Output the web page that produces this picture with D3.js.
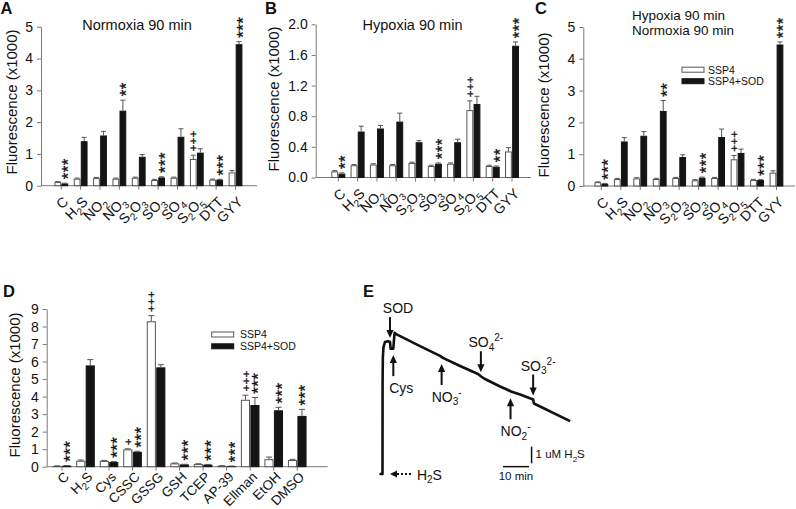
<!DOCTYPE html>
<html><head><meta charset="utf-8">
<script src="https://cdn.jsdelivr.net/npm/d3@7"></script>
<style>
body{margin:0;background:#fff}
svg{display:block}
text{font-family:"Liberation Sans",Arial,Helvetica,sans-serif;fill:#111}
</style>
</head><body>
<svg id="chart" width="796" height="509"></svg>
<script>
// ---------------- DATA ----------------
const catsABC = ["C","H_2S","NO_2","NO_3","S_2O_3","SO_3","SO_4","S_2O_5","DTT","GYY"];
const seriesNames = ["SSP4","SSP4+SOD"];

// Panel A: Normoxia 90 min
const aSSP4     = [0.12,0.22,0.24,0.22,0.25,0.18,0.25,0.84,0.19,0.42];
const aSSP4Err  = [0.01,0.02,0.02,0.02,0.02,0.02,0.02,0.12,0.02,0.06];
const aSOD      = [0.07,1.40,1.58,2.36,0.91,0.26,1.54,1.04,0.19,4.45];
const aSODErr   = [0.01,0.12,0.13,0.33,0.07,0.02,0.25,0.12,0.01,0.08];
const aMarkSSP4 = ["","","","","","","","+++","",""];
const aMarkSOD  = ["***","","","**","","***","","","***","***"];

// Panel B: Hypoxia 90 min
const bSSP4     = [0.08,0.16,0.17,0.16,0.19,0.15,0.18,0.88,0.15,0.34];
const bSSP4Err  = [0.01,0.01,0.01,0.01,0.01,0.01,0.01,0.12,0.01,0.05];
const bSOD      = [0.05,0.60,0.64,0.73,0.46,0.18,0.46,0.96,0.14,1.72];
const bSODErr   = [0.01,0.07,0.04,0.11,0.02,0.01,0.04,0.10,0.01,0.05];
const bMarkSSP4 = ["","","","","","","","+++","",""];
const bMarkSOD  = ["**","","","","","***","","","**","***"];

// Panel C: Hypoxia 90 min + Normoxia 90 min
const cSSP4     = [0.12,0.22,0.24,0.22,0.25,0.18,0.25,0.84,0.19,0.42];
const cSSP4Err  = [0.01,0.02,0.02,0.02,0.02,0.02,0.02,0.12,0.02,0.06];
const cSOD      = [0.07,1.40,1.58,2.36,0.91,0.26,1.54,1.04,0.19,4.45];
const cSODErr   = [0.01,0.12,0.13,0.33,0.07,0.02,0.25,0.12,0.01,0.08];
const cMarkSSP4 = ["","","","","","","","+++","",""];
const cMarkSOD  = ["***","","","**","","***","","","***","***"];

// Panel D
const catsD     = ["C","H_2S","Cys","CSSC","GSSG","GSH","TCEP","AP-39","Ellman","EtOH","DMSO"];
const dSSP4     = [0.04,0.34,0.33,0.99,8.30,0.19,0.15,0.05,3.82,0.43,0.38];
const dSSP4Err  = [0.01,0.04,0.03,0.03,0.32,0.02,0.02,0.01,0.26,0.12,0.04];
const dSOD      = [0.06,5.78,0.27,0.85,5.67,0.13,0.12,0.03,3.52,3.22,2.90];
const dSODErr   = [0.01,0.33,0.02,0.03,0.15,0.01,0.01,0.01,0.43,0.17,0.37];
const dMarkSSP4 = ["","","","+","+++","","","","+++","",""];
const dMarkSOD  = ["***","","***","***","","***","***","***","***","***","***"];

// Tick values
const ticksA = [0,1,2,3,4,5];
const ticksB = [0,0.4,0.8,1.2,1.6,2.0];
const ticksC = [0,1,2,3,4,5];
const ticksD = [0,1,2,3,4,5,6,7,8,9];

// Panel E: trace (time in min, H2S in uM)
const traceT = [-0.2,0.96,1.0,1.1,1.35,1.9,3.1,3.85,4.1,5.1,5.6,6.2,15.4,23.1,24.2,30.8,37.7,38.9,40.0,46.2,49.2,50.4,53.9,58.9,59.2,60.4,73.1];
const traceV = [0,0,5.5,7.0,7.6,7.9,7.95,7.9,7.5,7.5,8.45,8.38,7.66,7.07,6.95,6.47,5.99,5.84,5.72,5.24,5.03,4.94,4.76,4.46,4.22,4.13,3.17];
const evtLabels = ["SOD","Cys","NO_3^-","SO_4^2-","NO_2^-","SO_3^2-"];
const evtT      = [3.85,5.12,23.7,38.8,50.2,58.9];
const evtDir    = ["down","up","up","down","up","down"];

// ---------------- DRAW ----------------
const svg = d3.select("#chart");
const FONT = 14;

function addRich(t, str, size){
  const sub = Math.round(size*0.72);
  let cur = 0, i = 0, buf = "";
  const parts = [];
  while(i < str.length){
    const ch = str[i];
    if(ch === "_"){ if(buf){parts.push([buf,0]);buf="";} parts.push([str[i+1],1]); i += 2; }
    else if(ch === "^"){ if(buf){parts.push([buf,0]);buf="";} parts.push([str.slice(i+1),-1]); i = str.length; }
    else { buf += ch; i++; }
  }
  if(buf) parts.push([buf,0]);
  parts.forEach(([s,k])=>{
    const target = k===1 ? size*0.28 : k===-1 ? -size*0.42 : 0;
    t.append("tspan").attr("dy", (target-cur).toFixed(2)).attr("font-size", k ? sub : size).text(s);
    cur = target;
  });
}

// stacked significance marks drawn as one vertical (rotated) text run
function marksText(g, str, cx, yBottomCenter){
  const plus = str[0] === "+";
  const fs = plus ? 11.5 : 16.5;
  const adv = (plus ? 0.584 : 0.389) * fs;
  const inkC = (plus ? 0.353 : 0.574) * fs;
  const ls = 7 - adv;
  g.append("text").attr("font-size", fs).attr("letter-spacing", ls.toFixed(2))
    .attr("stroke","#111").attr("stroke-width",0.35)
    .attr("transform", `translate(${(cx + inkC).toFixed(2)},${(yBottomCenter + adv/2).toFixed(2)}) rotate(-90)`)
    .text(str);
}

function barPanel(cfg){
  const g = svg.append("g");
  const y = d3.scaleLinear().domain([0, cfg.ymax]).range([cfg.base, cfg.top]);
  const x = d3.scaleBand().domain(cfg.cats).range(cfg.band).paddingInner(0).paddingOuter(0);
  const xs = d3.scaleBand().domain(seriesNames).range([-cfg.bw, cfg.bw]).paddingInner(0.04);
  const ctr = c => x(c) + x.bandwidth()/2;

  const ya = g.append("g").attr("transform", `translate(${cfg.axisX},0)`)
    .call(d3.axisLeft(y).tickValues(cfg.ticks).tickSize(4).tickSizeOuter(0).tickPadding(4).tickFormat(cfg.fmt));
  ya.select(".domain").attr("stroke","#7a7a7a");
  ya.selectAll(".tick line").attr("stroke","#7a7a7a");
  ya.selectAll(".tick text").attr("font-size",FONT).attr("font-family",'"Liberation Sans",Arial,sans-serif').attr("fill","#111");

  g.append("line").attr("x1",cfg.axisX).attr("x2",cfg.axisEnd).attr("y1",cfg.base).attr("y2",cfg.base).attr("stroke","#7a7a7a");
  g.selectAll(".xt").data(cfg.cats).join("line")
    .attr("x1",d=>ctr(d)).attr("x2",d=>ctr(d)).attr("y1",cfg.base).attr("y2",cfg.base+4).attr("stroke","#7a7a7a");

  cfg.cats.forEach(c=>{
    const t = g.append("text").attr("text-anchor","end").attr("font-size",cfg.labFont)
      .attr("transform",`translate(${ctr(c)+cfg.labDx},${cfg.base+cfg.labDy}) rotate(-45)`);
    addRich(t, c, cfg.labFont);
  });

  g.append("text").attr("text-anchor","middle").attr("font-size",15)
    .attr("transform",`translate(${cfg.ytX},${cfg.ytY}) rotate(-90)`).text("Fluorescence (x1000)");

  const series = [
    {name:"SSP4", v:cfg.s1, e:cfg.e1, m:cfg.m1, fill:"#fff", stroke:"#555"},
    {name:"SSP4+SOD", v:cfg.s2, e:cfg.e2, m:cfg.m2, fill:"#141414", stroke:"#141414"}
  ];
  series.forEach(s=>{
    const bx = c => ctr(c) + xs(s.name);
    const w = xs.bandwidth();
    g.selectAll(null).data(cfg.cats).join("rect")
      .attr("x",(c)=>bx(c)+0.5).attr("y",(c,i)=>y(s.v[i])+0.5)
      .attr("width",w-1).attr("height",(c,i)=>Math.max(0,y(0)-y(s.v[i])-0.5))
      .attr("fill",s.fill).attr("stroke",s.stroke).attr("stroke-width",1);
    cfg.cats.forEach((c,i)=>{
      const cx = bx(c)+w/2, y0 = y(s.v[i]), y1 = y(s.v[i]+s.e[i]);
      g.append("line").attr("x1",cx).attr("x2",cx).attr("y1",y0).attr("y2",y1).attr("stroke","#555");
      g.append("line").attr("x1",cx-cfg.cap).attr("x2",cx+cfg.cap).attr("y1",y1).attr("y2",y1).attr("stroke","#555");
      if(s.m[i]) marksText(g, s.m[i], cx, y1 - 7);
    });
  });
  return g;
}

function legend(x0, y0, dy, textX){
  seriesNames.forEach((n,i)=>{
    svg.append("rect").attr("x",x0).attr("y",y0+i*dy-2.5).attr("width",22).attr("height",5)
      .attr("fill", i ? "#141414" : "#fff").attr("stroke", i ? "#141414" : "#555");
    svg.append("text").attr("x",textX).attr("y",y0+i*dy+3.8).attr("font-size",10.5).text(n);
  });
}

// Panel A
barPanel({cats:catsABC, ymax:5, ticks:ticksA, fmt:d3.format("d"), base:185.7, top:26.7, axisX:41, axisEnd:257,
  band:[51.6,245.2], bw:6.9, cap:2.5, labDx:8, labDy:17, labFont:14, ytX:17, ytY:102,
  s1:aSSP4,e1:aSSP4Err,m1:aMarkSSP4,s2:aSOD,e2:aSODErr,m2:aMarkSOD});
svg.append("text").attr("x",137).attr("y",30).attr("text-anchor","middle").attr("font-size",14.5).text("Normoxia 90 min");

// Panel B
barPanel({cats:catsABC, ymax:2.0, ticks:ticksB, fmt:d3.format(".1f"), base:177.5, top:24.3, axisX:315.7, axisEnd:531,
  band:[328.65,521.65], bw:7, cap:2.5, labDx:8, labDy:17, labFont:14, ytX:279, ytY:99,
  s1:bSSP4,e1:bSSP4Err,m1:bMarkSSP4,s2:bSOD,e2:bSODErr,m2:bMarkSOD});
svg.append("text").attr("x",412.5).attr("y",29.5).attr("text-anchor","middle").attr("font-size",14.5).text("Hypoxia 90 min");

// Panel C
{
  const tt = svg.append("text").attr("x",632).attr("y",19.8).attr("font-size",13.5);
  tt.append("tspan").attr("x",632).attr("dy",0).text("Hypoxia 90 min");
  tt.append("tspan").attr("x",632).attr("dy",15.6).text("Normoxia 90 min");
}
barPanel({cats:catsABC, ymax:5, ticks:ticksC, fmt:d3.format("d"), base:186, top:27, axisX:583.3, axisEnd:795,
  band:[591.6,786.2], bw:6.9, cap:2.5, labDx:8, labDy:17, labFont:14, ytX:549, ytY:105,
  s1:cSSP4,e1:cSSP4Err,m1:cMarkSSP4,s2:cSOD,e2:cSODErr,m2:cMarkSOD});
legend(682, 69.7, 11.5, 708);

// Panel D
barPanel({cats:catsD, ymax:9, ticks:ticksD, fmt:d3.format("d"), base:466.7, top:309, axisX:46.7, axisEnd:327.7,
  band:[50.2,309.0], bw:9.3, cap:3, labDx:8, labDy:11, labFont:13.5, ytX:20, ytY:385,
  s1:dSSP4,e1:dSSP4Err,m1:dMarkSSP4,s2:dSOD,e2:dSODErr,m2:dMarkSOD});
legend(211.7, 334.5, 11.8, 240);

// Panel letters
[["A",0.5,13.5],["B",265,13.5],["C",535,13.5],["D",3,296.5],["E",363,297]].forEach(([l,x,y])=>{
  svg.append("text").attr("x",x).attr("y",y).attr("font-size",16.5).attr("font-weight","bold").text(l);
});

// Panel E
(function(){
  const g = svg.append("g");
  const xT = d3.scaleLinear().domain([0,80]).range([380,588]);
  const yV = d3.scaleLinear().domain([0,9]).range([474,474-9*16.7]);
  const pts = traceT.map((t,i)=>[t,traceV[i]]);
  g.append("path").datum(pts)
    .attr("d", d3.line().x(d=>xT(d[0])).y(d=>yV(d[1])).curve(d3.curveLinear))
    .attr("fill","none").attr("stroke","#111").attr("stroke-width",2.6).attr("stroke-linejoin","round");
  const interp = t => {
    const i = d3.bisectRight(traceT, t);
    const t0=traceT[i-1], t1=traceT[i], v0=traceV[i-1], v1=traceV[i];
    return v0 + (v1-v0)*(t-t0)/(t1-t0);
  };
  const head = (x,y,dir) => {
    const L=8, W=3.6;
    return `M${x},${y} L${x-W},${y-dir*L} L${x+W},${y-dir*L} Z`;
  };
  evtLabels.forEach((lab,i)=>{
    const x = xT(evtT[i]);
    const yt = yV(interp(evtT[i]));
    let tip, tail, ty;
    if(evtDir[i]==="down"){ tip = yt-4; tail = tip-21; ty = tail-4; }
    else { tip = yt+7; tail = tip+21; ty = tail+16.5; }
    const dir = evtDir[i]==="down" ? 1 : -1;
    g.append("line").attr("x1",x).attr("x2",x).attr("y1",tail).attr("y2",tip-dir*6).attr("stroke","#111").attr("stroke-width",2);
    g.append("path").attr("d",head(x,tip,dir)).attr("fill","#111");
    const plain = !/[_^]/.test(lab);
    const t = g.append("text").attr("x",x+(plain?8:5)).attr("y",ty).attr("text-anchor","middle").attr("font-size",14);
    addRich(t, lab, 14);
  });
  const hx = xT(3.85), hy = yV(0);
  g.append("path").attr("d",`M${hx},${hy} L${hx+7},${hy-3.5} L${hx+7},${hy+3.5} Z`).attr("fill","#111");
  g.append("line").attr("x1",hx+7).attr("x2",xT(12.3)).attr("y1",hy).attr("y2",hy)
    .attr("stroke","#111").attr("stroke-width",2).attr("stroke-dasharray","2,2");
  const ht = g.append("text").attr("x",xT(14.2)).attr("y",hy+5.5).attr("font-size",14);
  addRich(ht, "H_2S", 14);
  g.append("line").attr("x1",xT(58.3)).attr("x2",xT(58.3)).attr("y1",yV(0.64)).attr("y2",yV(1.64)).attr("stroke","#111").attr("stroke-width",1.5);
  const st = g.append("text").attr("x",xT(58.3)+4).attr("y",yV(0.64)-5).attr("font-size",11.5);
  addRich(st, "1 uM H_2S", 11.5);
  g.append("line").attr("x1",xT(47.3)).attr("x2",xT(57.3)).attr("y1",yV(0.44)).attr("y2",yV(0.44)).attr("stroke","#111").attr("stroke-width",1.5);
  g.append("text").attr("x",(xT(47.3)+xT(57.3))/2).attr("y",yV(0.44)+13.5).attr("text-anchor","middle").attr("font-size",11.5).text("10 min");
})();
</script>
</body></html>
